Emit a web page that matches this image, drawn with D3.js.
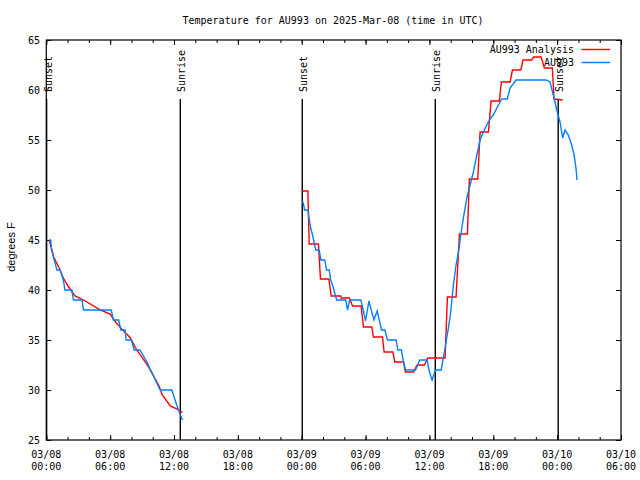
<!DOCTYPE html>
<html><head><meta charset="utf-8">
<script src="https://cdn.jsdelivr.net/npm/d3@7"></script>
<style>body{margin:0;background:#fff}</style>
</head><body><svg id="c" width="640" height="480"></svg>
<script>
// ---- data (hours since 2025-03-08 00:00 UTC, degrees F) ----
const chartTitle = "Temperature for AU993 on 2025-Mar-08 (time in UTC)";
const yAxisLabel = "degrees F";
const seriesNames = ["AU993 Analysis", "AU993"];
const seriesColors = ["#ff0000", "#0080ff"];
const yTickValues = [25, 30, 35, 40, 45, 50, 55, 60, 65];
const xDomainHours = [0, 54];
const sunEvents = [
  {label: "Sunset", h: 0.03}, {label: "Sunrise", h: 12.59},
  {label: "Sunset", h: 24.05}, {label: "Sunrise", h: 36.55},
  {label: "Sunset", h: 48.1}
];
const analysisNight1 = [
  [0.3,44.9],[0.7,43.3],[1.3,42.0],[1.6,41.2],[2.1,40.3],[2.7,39.4],[3.5,39.0],
  [5.1,38.0],[6.0,37.6],[6.5,36.8],[7.1,36.1],[7.9,35.2],[8.5,34.0],[9.5,32.5],
  [10.55,30.5],[10.9,29.5],[11.65,28.4],[12.3,28.1],[12.65,27.8],[12.8,27.8]
];
const analysisNight2 = [
  [24.07,49.9],[24.58,49.9],[24.7,44.6],[25.57,44.6],[25.76,41.1],[26.55,41.1],
  [26.77,39.4],[27.67,39.4],[27.7,39.2],[28.49,39.2],[28.77,38.4],[29.58,38.4],
  [29.8,36.3],[30.58,36.3],[30.74,35.3],[31.59,35.3],[31.74,33.8],[32.56,33.8],
  [32.75,32.8],[33.56,32.8],[33.74,31.8],[34.5,31.8],[34.84,32.5],[35.53,32.5],
  [35.85,33.2],[37.47,33.2],[37.69,39.3],[38.5,39.3],[38.82,45.6],[39.57,45.6],
  [39.75,51.1],[40.54,51.1],[40.76,55.8],[41.54,55.8],[41.79,58.9],[42.57,58.9],
  [42.76,60.8],[43.58,60.8],[43.8,62.0],[44.58,62.0],[44.8,63.0],[45.6,63.0],
  [45.8,63.3],[46.49,63.3],[46.8,62.2],[47.55,62.2],[47.71,59.1],[48.52,59.0]
];
const obsNight1 = [
  [0.25,45.0],[0.4,45.0],[0.5,44.0],[0.75,43.0],[1.0,42.0],[1.3,42.0],[1.45,41.5],
  [1.6,41.0],[1.75,40.0],[2.4,40.0],[2.55,39.0],[3.35,39.0],[3.5,38.0],[6.1,38.0],
  [6.3,37.0],[6.8,37.0],[7.0,36.0],[7.4,36.0],[7.5,35.0],[8.0,35.0],[8.25,34.0],
  [8.8,34.0],[9.45,32.8],[10.7,30.0],[11.8,30.0],[12.25,28.5],[12.6,27.5],[12.8,27.0]
];
const obsNight2 = [
  [24.07,48.9],[24.17,48.6],[24.26,48.0],[24.58,48.0],[24.7,47.1],[24.86,46.1],
  [25.02,45.5],[25.17,44.7],[25.33,44.0],[25.64,44.0],[25.8,43.0],[26.17,43.0],
  [26.33,42.0],[26.58,42.0],[26.73,41.0],[26.95,40.3],[27.1,39.7],[27.29,39.0],
  [28.13,39.0],[28.3,38.0],[28.5,39.0],[29.56,39.0],[29.84,37.7],[30.0,36.9],
  [30.31,38.9],[30.78,37.0],[31.09,37.9],[31.5,36.0],[31.81,36.0],[32.06,35.0],
  [32.87,35.0],[33.03,34.0],[33.37,34.0],[33.53,33.0],[33.75,32.0],[34.69,32.0],
  [34.9,32.5],[35.09,33.0],[35.78,33.0],[36.0,31.8],[36.25,31.0],[36.56,32.0],
  [37.1,32.0],[37.47,34.2],[37.78,36.2],[38.0,37.8],[38.25,40.5],[38.5,42.5],
  [38.79,44.2],[38.94,45.5],[39.19,47.2],[39.51,49.2],[39.82,50.5],[40.13,51.8],
  [40.45,53.5],[40.76,55.0],[41.07,55.8],[41.39,56.5],[41.7,57.1],[42.0,57.5],
  [42.33,58.2],[42.8,59.1],[43.32,59.1],[43.58,60.2],[44.14,61.0],[46.96,61.0],
  [47.33,60.8],[47.71,59.2],[47.96,58.0],[48.27,56.8],[48.52,55.2],[48.74,56.0],
  [49.05,55.5],[49.37,54.5],[49.59,53.5],[49.77,52.2],[49.87,51.0]
];

// ---- drawing ----
const T0 = Date.UTC(2025, 2, 8, 0, 0);
const toDate = h => new Date(T0 + h * 3600e3);
const L = 46.3, R = 621, TOP = 40, BOT = 440;
const mono = "'DejaVu Sans Mono', 'Liberation Mono', monospace";
const svg = d3.select("#c");
svg.append("rect").attr("width", 640).attr("height", 480).attr("fill", "#fff");

const x = d3.scaleUtc().domain(xDomainHours.map(toDate)).range([L, R]);
const y = d3.scaleLinear().domain([25, 65]).range([BOT, TOP]);

function styleAxis(g) {
  g.select(".domain").remove();
  g.selectAll("line").attr("stroke", "#000").attr("stroke-width", 1);
}
const minorT = x.ticks(d3.utcHour.every(2));
const majorT = x.ticks(d3.utcHour.every(6));
svg.append("g").attr("transform", `translate(0,${BOT})`)
  .call(d3.axisBottom(x).tickValues(minorT).tickSize(-3).tickFormat("")).call(styleAxis);
svg.append("g").attr("transform", `translate(0,${BOT})`)
  .call(d3.axisBottom(x).tickValues(majorT).tickSize(-5).tickFormat("")).call(styleAxis);
svg.append("g").attr("transform", `translate(0,${TOP})`)
  .call(d3.axisTop(x).tickValues(minorT).tickSize(-3).tickFormat("")).call(styleAxis);
svg.append("g").attr("transform", `translate(0,${TOP})`)
  .call(d3.axisTop(x).tickValues(majorT).tickSize(-5).tickFormat("")).call(styleAxis);
svg.append("g").attr("transform", `translate(${L},0)`)
  .call(d3.axisLeft(y).tickValues(yTickValues).tickSize(-5).tickFormat("")).call(styleAxis);
svg.append("g").attr("transform", `translate(${R},0)`)
  .call(d3.axisRight(y).tickValues(yTickValues).tickSize(-5).tickFormat("")).call(styleAxis);

const fmtD = d3.utcFormat("%m/%d"), fmtH = d3.utcFormat("%H:%M");
const xl = svg.append("g").attr("font-family", mono).attr("font-size", 10).attr("text-anchor", "middle");
majorT.forEach(d => {
  const t = xl.append("text").attr("x", x(d)).attr("y", 458);
  t.append("tspan").attr("x", x(d)).text(fmtD(d));
  t.append("tspan").attr("x", x(d)).attr("dy", 12).text(fmtH(d));
});
svg.append("g").attr("font-family", mono).attr("font-size", 10).attr("text-anchor", "end")
  .selectAll("text").data(yTickValues).join("text")
  .attr("x", 40).attr("y", d => y(d) + 3.6).text(d => d);

svg.append("rect").attr("x", L).attr("y", TOP).attr("width", R - L).attr("height", BOT - TOP)
  .attr("fill", "none").attr("stroke", "#000").attr("stroke-width", 1.2);

const se = svg.append("g");
sunEvents.forEach(e => {
  const ex = x(toDate(e.h));
  se.append("line").attr("x1", ex).attr("x2", ex).attr("y1", 99).attr("y2", BOT)
    .attr("stroke", "#000").attr("stroke-width", 1.4);
  se.append("text").attr("transform", `translate(${ex + 5},92) rotate(-90)`)
    .attr("font-family", mono).attr("font-size", 10).attr("text-anchor", "start").text(e.label);
});

const line = d3.line().x(d => x(toDate(d[0]))).y(d => y(d[1]));
[[analysisNight1, analysisNight2], [obsNight1, obsNight2]].forEach((segs, i) => {
  segs.forEach(s => svg.append("path").attr("d", line(s)).attr("fill", "none")
    .attr("stroke", seriesColors[i]).attr("stroke-width", 1.4).attr("stroke-linejoin", "miter"));
});

svg.append("text").attr("x", 333).attr("y", 24).attr("text-anchor", "middle")
  .attr("font-family", mono).attr("font-size", 10).text(chartTitle);
svg.append("text").attr("transform", "translate(14.5,247) rotate(-90)").attr("text-anchor", "middle")
  .attr("font-family", "'Liberation Sans', Arial, sans-serif").attr("font-size", 11).text(yAxisLabel);

seriesNames.forEach((n, i) => {
  const ly = 49.5 + i * 13;
  svg.append("text").attr("x", 574).attr("y", ly + 3.6).attr("text-anchor", "end")
    .attr("font-family", mono).attr("font-size", 10).text(n);
  svg.append("line").attr("x1", 581.5).attr("x2", 610).attr("y1", ly).attr("y2", ly)
    .attr("stroke", seriesColors[i]).attr("stroke-width", 1.5);
});
</script></body></html>
